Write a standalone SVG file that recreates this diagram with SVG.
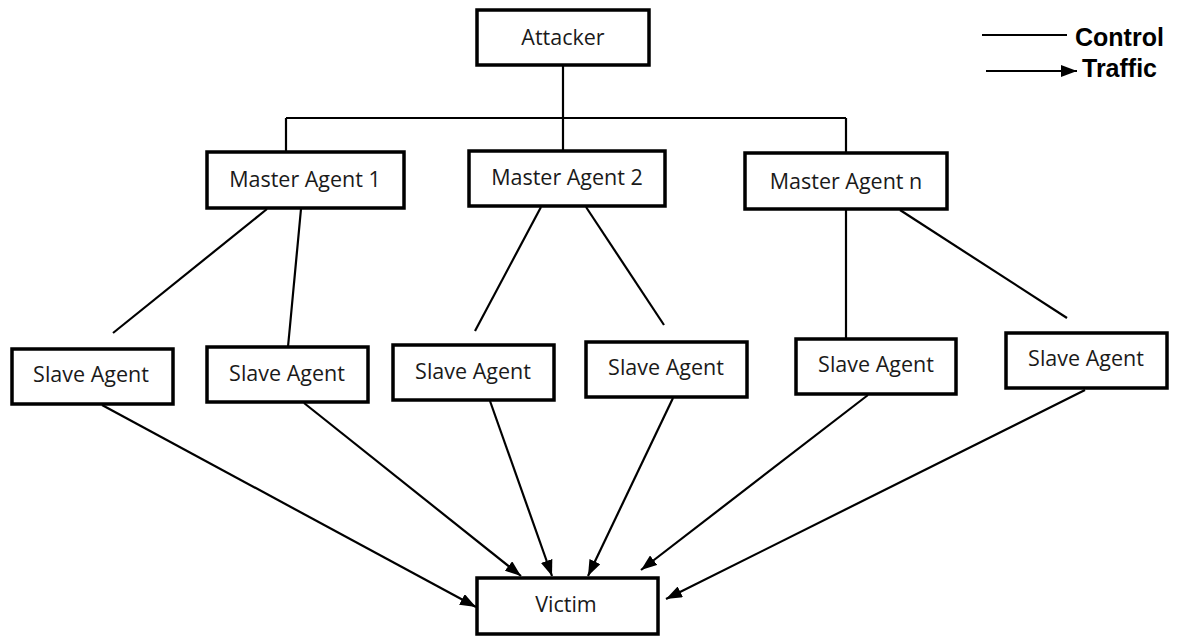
<svg xmlns="http://www.w3.org/2000/svg" width="1182" height="637" viewBox="0 0 1182 637">
<style>
.box{fill:#fff;stroke:#000;stroke-width:3.5}
.lbl{font-family:"Open Sans","Liberation Sans",sans-serif;font-size:21.5px;fill:#1a1a1a;text-anchor:middle;dominant-baseline:central}
.ctl{stroke:#000;stroke-width:2.2;fill:none}
.trf{stroke:#000;stroke-width:2.2;fill:none;marker-end:url(#ah)}
.leg{font-family:"Liberation Sans",Arial,sans-serif;font-size:25px;font-weight:bold;fill:#000}
</style>
<defs>
<marker id="ah" markerUnits="userSpaceOnUse" markerWidth="16" markerHeight="12" refX="16" refY="6" orient="auto">
<path d="M0,0 L16,6 L0,12 z" fill="#000"/>
</marker>
</defs>
<rect width="1182" height="637" fill="#fff"/>
<g id="connectors">
<path class="ctl" d="M563,65 V118 M286,118 H846 M286,118 V152 M563,118 V151 M846,118 V153"/>
<line class="ctl" x1="267" y1="209" x2="113" y2="333"/>
<line class="ctl" x1="301" y1="209" x2="288" y2="347"/>
<line class="ctl" x1="541" y1="207" x2="475" y2="331"/>
<line class="ctl" x1="586" y1="207" x2="664" y2="325"/>
<line class="ctl" x1="846" y1="209" x2="846" y2="339"/>
<line class="ctl" x1="900" y1="210" x2="1067" y2="318"/>
<line class="trf" x1="102" y1="405" x2="476" y2="607"/>
<line class="trf" x1="304" y1="403" x2="521" y2="576"/>
<line class="trf" x1="490" y1="401" x2="552" y2="576"/>
<line class="trf" x1="673" y1="398" x2="588" y2="576"/>
<line class="trf" x1="868" y1="395" x2="641" y2="570"/>
<line class="trf" x1="1085" y1="390" x2="666" y2="599"/>
</g>
<g id="legend">
<line class="ctl" x1="982" y1="35" x2="1067" y2="35"/>
<line class="trf" x1="986" y1="71" x2="1077" y2="71"/>
<text class="leg" x="1075" y="46">Control</text>
<text class="leg" x="1082" y="77">Traffic</text>
</g>
<g id="attacker"><rect class="box" x="477" y="10" width="172" height="55"/><text class="lbl" x="563" y="36">Attacker</text></g>
<g id="master1"><rect class="box" x="207" y="152" width="197" height="56"/><text class="lbl" x="305" y="178">Master Agent 1</text></g>
<g id="master2"><rect class="box" x="469" y="151" width="196" height="55"/><text class="lbl" x="567" y="176">Master Agent 2</text></g>
<g id="mastern"><rect class="box" x="745" y="153" width="202" height="56"/><text class="lbl" x="846" y="180">Master Agent n</text></g>
<g id="slave1"><rect class="box" x="12" y="349" width="161" height="55"/><text class="lbl" x="91" y="373">Slave Agent</text></g>
<g id="slave2"><rect class="box" x="207" y="347" width="161" height="55"/><text class="lbl" x="287" y="372">Slave Agent</text></g>
<g id="slave3"><rect class="box" x="393" y="345" width="161" height="55"/><text class="lbl" x="473" y="370">Slave Agent</text></g>
<g id="slave4"><rect class="box" x="586" y="342" width="161" height="55"/><text class="lbl" x="666" y="366">Slave Agent</text></g>
<g id="slave5"><rect class="box" x="796" y="339" width="160" height="55"/><text class="lbl" x="876" y="363">Slave Agent</text></g>
<g id="slave6"><rect class="box" x="1006" y="333" width="161" height="55"/><text class="lbl" x="1086" y="357">Slave Agent</text></g>
<g id="victim"><rect class="box" x="477" y="578" width="181" height="56"/><text class="lbl" x="566" y="603">Victim</text></g>
</svg>
